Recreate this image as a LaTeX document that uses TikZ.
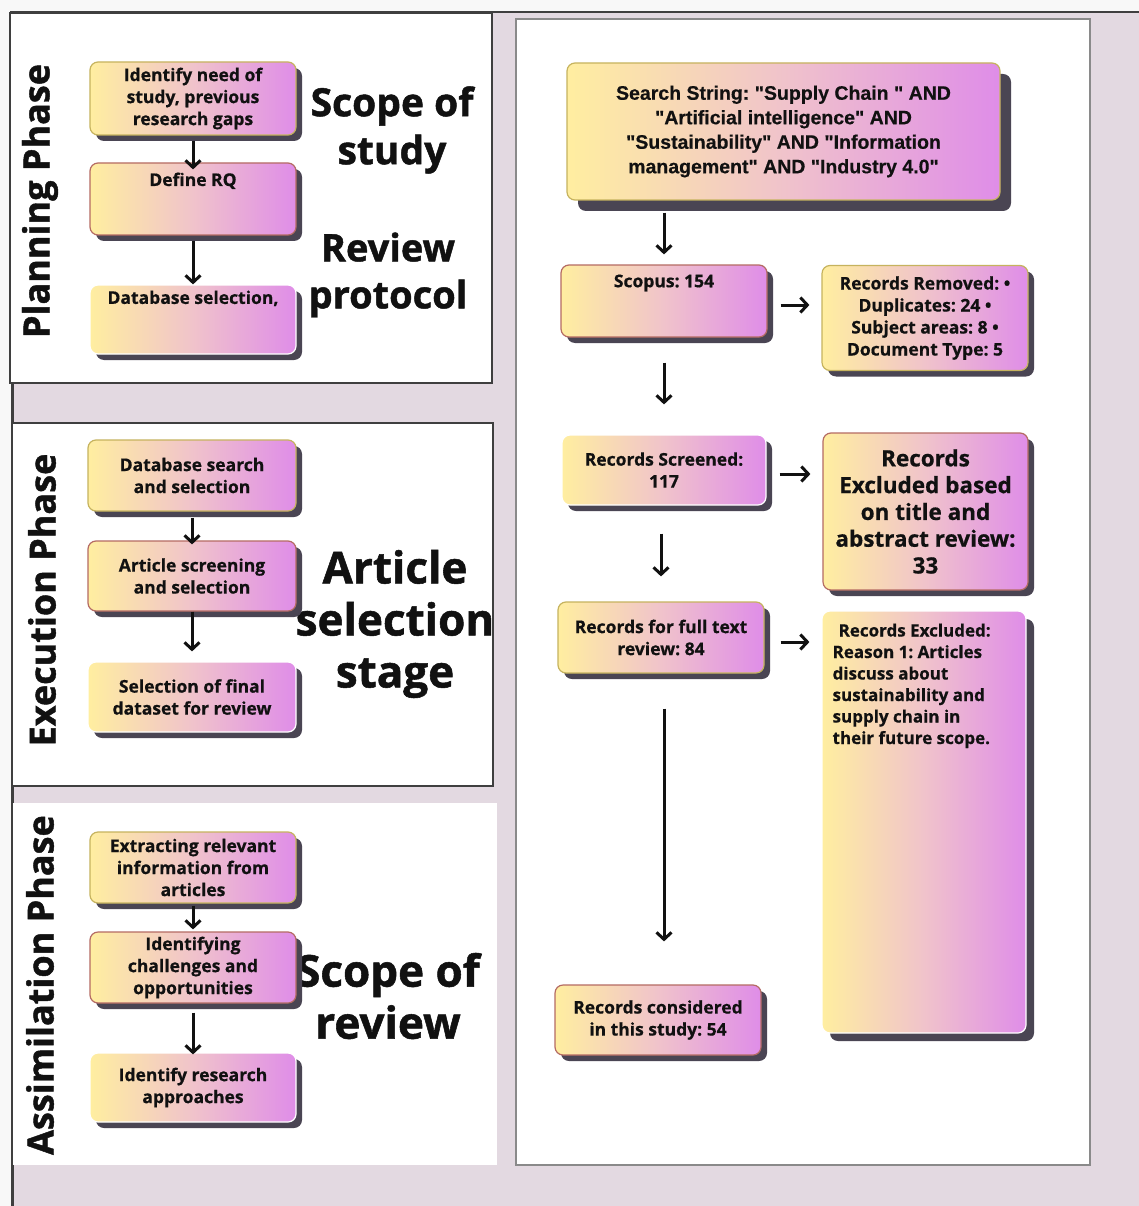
\documentclass[tikz,border=0pt]{standalone}
\usepackage{fontspec}
\setmainfont{Open Sans}
\newfontfamily\searchfamily{Liberation Sans}[BoldFont={Liberation Sans Bold}]
\usetikzlibrary{arrows.meta, shadows, calc}
\frenchspacing

\definecolor{bgmauve}{HTML}{E3D9E1}
\definecolor{paper}{HTML}{F8F8F8}
\definecolor{boxyellow}{HTML}{FFEEA0}
\definecolor{boxpink}{HTML}{F0C3CB}
\definecolor{boxviolet}{HTML}{DF8DE8}
\definecolor{shadowgray}{HTML}{4A4553}
\definecolor{edgeolive}{HTML}{C6B35E}
\definecolor{edgered}{HTML}{B56B63}
\definecolor{panelline}{HTML}{3F3F3F}
\definecolor{rightline}{HTML}{8A8A8A}
\definecolor{inkblack}{HTML}{111111}

\newcommand\boxfont{\fontsize{17.5}{22}\selectfont\bfseries\addfontfeature{FakeBold=0.6}}
\newcommand\stagefont{\fontsize{44}{52}\selectfont\bfseries\addfontfeature{FakeBold=1.2}}
\newcommand\phasefont{\fontsize{36}{40}\selectfont\bfseries\addfontfeature{FakeBold=1.2}}

\begin{document}
\begin{tikzpicture}[x=1pt, y=-1pt,
	stepbox/.style={rounded corners=8pt, draw=#1, line width=1.2pt,
		left color=boxyellow, right color=boxviolet, middle color=boxpink,
		inner sep=0pt, align=center, font=\boxfont, text=inkblack},
	stepbox/.default=edgeolive,
	boxshadow/.style={drop shadow={shadow xshift=#1, shadow yshift=-#1,
		fill=shadowgray, opacity=1}},
	boxshadow/.default=6pt,
	boxtext/.style={inner sep=0pt, align=center, font=\boxfont, text=inkblack},
	stagelabel/.style={inner sep=0pt, align=center, font=\stagefont, text=inkblack},
	phaselabel/.style={inner sep=0pt, rotate=90, font=\phasefont, text=inkblack},
	flowarrow/.style={draw=inkblack, line width=3pt,
		-{Straight Barb[length=7pt, width=15pt, line width=3pt]}}
]
	% Canvas
	\useasboundingbox (0,0) rectangle (1139,1206);
	\fill[paper] (0,0) rectangle (1139,1206);
	\fill[bgmauve] (12,12) rectangle (1139,1206);
	\draw[panelline, line width=2.5pt] (10,12) -- (1139,12);
	\draw[panelline, line width=3pt] (12,383) -- (12,1206);

	% Phase panels
	\draw[panelline, fill=white, line width=1.5pt] (10,13) rectangle (492,383);
	\draw[panelline, fill=white, line width=1.5pt] (12,423) rectangle (493,786);
	\fill[white] (13,803) rectangle (497,1165);
	\draw[rightline, fill=white, line width=1.2pt] (516,19) rectangle (1090,1165);

	% Phase names
	\node[phaselabel] (planning) at (40,201) {Planning Phase};
	\node[phaselabel] (execution) at (42,600) {Execution Phase};
	\node[phaselabel] (assimilation) at (40,985) {Assimilation Phase};

	% Stage names
	\node[stagelabel, font=\fontsize{39}{48}\selectfont\bfseries\addfontfeature{FakeBold=1.2}] (scopestudy) at (392,130) {Scope of\\study};
	\node[stagelabel, font=\fontsize{38}{47}\selectfont\bfseries\addfontfeature{FakeBold=1.2}] (protocol) at (388,275) {Review\\protocol};
	\node[stagelabel] (artselect) at (395,624) {Article\\selection\\stage};
	\node[stagelabel] (scopereview) at (388,996) {Scope of\\review};

	% Planning phase
	\node[stepbox, boxshadow, minimum width=206, minimum height=73] (need) at (193,98.5)
		{Identify need of\\study, previous\\research gaps};
	\node[stepbox=edgered, boxshadow, minimum width=206, minimum height=72] (rq) at (193,199) {};
	\node[boxtext, anchor=north] (rqtext) at ([yshift=-10pt]rq.north) {Define RQ};
	\node[stepbox=white, boxshadow, minimum width=206, minimum height=69] (dbsel) at (193,319.5) {};
	\node[boxtext, anchor=north] (dbseltext) at ([yshift=-6pt]dbsel.north) {Database selection,};

	\draw[flowarrow, shorten <=5pt, shorten >=-7pt] (need) -- (rq);
	\draw[flowarrow, shorten <=5pt] (rq) -- (dbsel);

	% Execution phase
	\node[stepbox, boxshadow, minimum width=208, minimum height=71] (dbsearch) at (192,475.5)
		{Database search\\and selection};
	\node[stepbox=edgered, boxshadow, minimum width=208, minimum height=70] (screening) at (192,576)
		{Article screening\\and selection};
	\node[stepbox=white, boxshadow, minimum width=208, minimum height=70] (finalset) at (192,697)
		{Selection of final\\dataset for review};

	\draw[flowarrow, shorten <=6pt, shorten >=-4pt] (dbsearch) -- (screening);
	\draw[flowarrow, shorten >=10pt] (screening) -- (finalset);

	% Assimilation phase
	\node[stepbox, boxshadow, minimum width=206, minimum height=71] (extract) at (193,867.5)
		{Extracting relevant\\information from\\articles};
	\node[stepbox=edgered, boxshadow, minimum width=206, minimum height=71] (challenges) at (193,967.5)
		{Identifying\\challenges and\\opportunities};
	\node[stepbox=white, boxshadow, minimum width=206, minimum height=69] (approaches) at (193,1087.5)
		{Identify research\\approaches};

	\draw[flowarrow, shorten <=2pt, shorten >=2pt] (extract) -- (challenges);
	\draw[flowarrow, shorten <=9pt, shorten >=-2pt] (challenges) -- (approaches);

	% Record flow
	\node[stepbox, boxshadow=11pt, minimum width=433, minimum height=137,
		font=\fontsize{19.5}{24.5}\selectfont\searchfamily\bfseries\addfontfeature{FakeBold=0.5}] (search) at (783.5,131.5)
		{Search String: "Supply Chain " AND\\"Artificial intelligence" AND\\"Sustainability" AND "Information\\management" AND "Industry 4.0"};
	\node[stepbox=edgered, boxshadow, minimum width=206, minimum height=72] (scopus) at (664,301) {};
	\node[boxtext, anchor=north] (scopustext) at ([yshift=-10pt]scopus.north) {Scopus: 154};
	\node[stepbox, boxshadow, minimum width=206, minimum height=105] (removed) at (925,318)
		{Records Removed: •\\Duplicates: 24 •\\Subject areas: 8 •\\Document Type: 5};
	\node[stepbox=white, boxshadow, minimum width=204, minimum height=70] (screened) at (664,470)
		{Records Screened:\\117};
	\node[stepbox=edgered, boxshadow, minimum width=205, minimum height=157,
		font=\fontsize{22.5}{26.8}\selectfont\bfseries\addfontfeature{FakeBold=0.6}] (titleexcl) at (925.5,511.5)
		{Records\\Excluded based\\on title and\\abstract review:\\33};
	\node[stepbox, boxshadow, minimum width=206, minimum height=71] (fulltext) at (661,637.5)
		{Records for full text\\review: 84};
	\node[stepbox=white, boxshadow=8pt, minimum width=204, minimum height=422] (fullexcl) at (924,822) {};
	\node[boxtext, anchor=north west, align=left, font=\fontsize{17}{21.5}\selectfont\bfseries\addfontfeature{FakeBold=0.6}] (fullexcltext) at ([xshift=11pt, yshift=-13pt]fullexcl.north west)
		{\hspace{6pt}Records Excluded:\\Reason 1: Articles\\discuss about\\sustainability and\\supply chain in\\their future scope.};
	\node[stepbox=edgered, boxshadow, minimum width=206, minimum height=70] (considered) at (658,1020)
		{Records considered\\in this study: 54};

	\draw[flowarrow, shorten <=12pt, shorten >=10pt] (search.south -| scopus.north) -- (scopus.north);
	\draw[flowarrow, shorten <=25pt, shorten >=30pt] (scopus) -- (screened);
	\draw[flowarrow, shorten <=28pt, shorten >=25pt] (fulltext.north |- screened.south) -- (fulltext.north);
	\draw[flowarrow, shorten <=35pt, shorten >=43pt] ([xshift=3pt]fulltext.south) -- ([xshift=3pt]fulltext.south |- considered.north);

	\draw[flowarrow, shorten <=13pt, shorten >=12pt] ([yshift=-4pt]scopus.east) -- ([yshift=-4pt]scopus.east -| removed.west);
	\draw[flowarrow, shorten <=13pt, shorten >=12pt] ([yshift=-4pt]screened.east) -- ([yshift=-4pt]screened.east -| titleexcl.west);
	\draw[flowarrow, shorten <=16pt, shorten >=12pt] ([yshift=-4.5pt]fulltext.east) -- ([yshift=-4.5pt]fulltext.east -| fullexcl.west);
\end{tikzpicture}
\end{document}
